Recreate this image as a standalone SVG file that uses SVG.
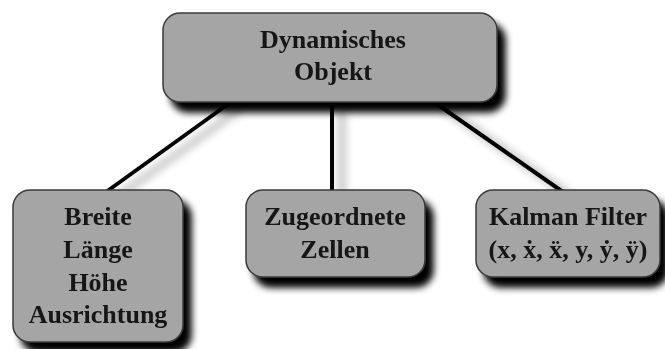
<svg xmlns="http://www.w3.org/2000/svg" width="665" height="349" viewBox="0 0 665 349">
  <defs>
    <filter id="boxShadow" x="-20%" y="-20%" width="150%" height="150%">
      <feGaussianBlur in="SourceAlpha" stdDeviation="3.5" result="blur"/>
      <feOffset in="blur" dx="8" dy="10" result="off"/>
      <feComponentTransfer in="off" result="dark"><feFuncA type="linear" slope="1"/></feComponentTransfer>
      <feMerge><feMergeNode in="dark"/><feMergeNode in="SourceGraphic"/></feMerge>
    </filter>
    <filter id="lineShadow" x="-30%" y="-30%" width="160%" height="160%">
      <feGaussianBlur in="SourceAlpha" stdDeviation="5" result="blur"/>
      <feOffset in="blur" dx="10" dy="6" result="off"/>
      <feComponentTransfer in="off" result="soft"><feFuncA type="linear" slope="0.45"/></feComponentTransfer>
      <feMerge><feMergeNode in="soft"/><feMergeNode in="SourceGraphic"/></feMerge>
    </filter>
  </defs>
  <style>
    .box { fill: #a5a5a5; stroke: #3a3a3a; stroke-width: 1.5; }
    .lbl { font-family: "Liberation Serif", "DejaVu Serif", serif; font-weight: bold; font-size: 26px; fill: #151515; text-anchor: middle; }
    .edge { stroke: #000; stroke-width: 4; fill: none; }
  </style>
  <rect width="665" height="349" fill="#ffffff"/>

  <g id="connectors" filter="url(#lineShadow)">
    <line class="edge" x1="231" y1="102" x2="106" y2="192"/>
    <line class="edge" x1="332" y1="102" x2="332" y2="192"/>
    <line class="edge" x1="434" y1="102" x2="563" y2="192"/>
  </g>

  <g id="node-dynamisches-objekt" filter="url(#boxShadow)">
    <rect class="box" x="163" y="13" width="334" height="89" rx="17"/>
    <text class="lbl" x="333" y="48">Dynamisches</text>
    <text class="lbl" x="333" y="80">Objekt</text>
  </g>

  <g id="node-abmessungen" filter="url(#boxShadow)">
    <rect class="box" x="13" y="190" width="170" height="152" rx="17"/>
    <text class="lbl" x="98" y="225">Breite</text>
    <text class="lbl" x="98" y="258">Länge</text>
    <text class="lbl" x="98" y="291">Höhe</text>
    <text class="lbl" x="98" y="323">Ausrichtung</text>
  </g>

  <g id="node-zellen" filter="url(#boxShadow)">
    <rect class="box" x="246" y="190" width="179" height="87" rx="17"/>
    <text class="lbl" x="335" y="225">Zugeordnete</text>
    <text class="lbl" x="335" y="258">Zellen</text>
  </g>

  <g id="node-kalman" filter="url(#boxShadow)">
    <rect class="box" x="476" y="190" width="184" height="87" rx="17"/>
    <text class="lbl" x="568" y="225">Kalman Filter</text>
    <text class="lbl" x="568" y="258">(x, ẋ, ẍ, y, ẏ, ÿ)</text>
  </g>
</svg>
